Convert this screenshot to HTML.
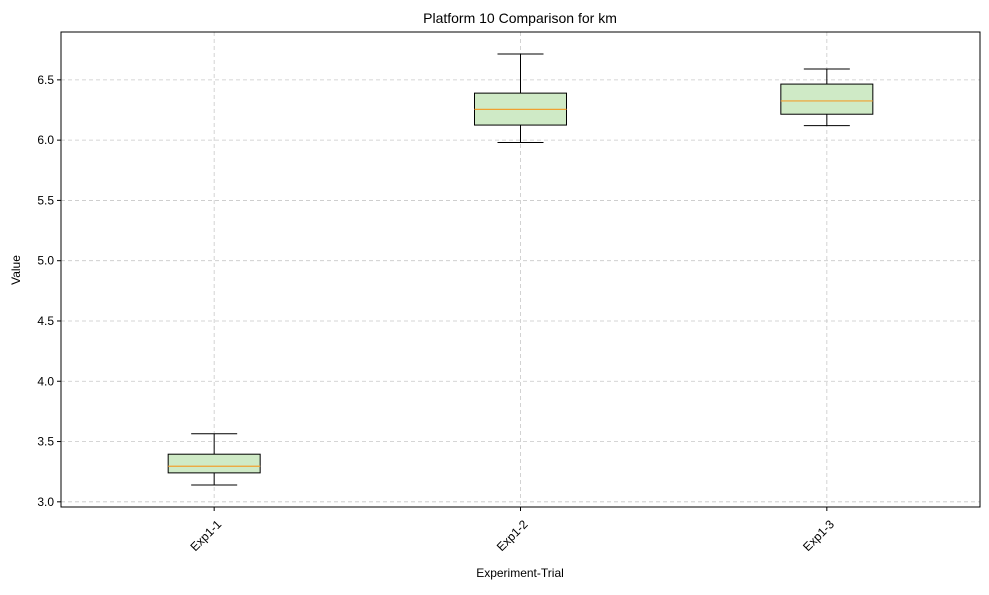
<!DOCTYPE html>
<html><head><meta charset="utf-8"><style>
body{margin:0;background:#fff;font-family:"Liberation Sans",sans-serif;}
svg text{font-family:"Liberation Sans",sans-serif;}
</style></head><body>
<svg id="chart" width="989" height="590" xmlns="http://www.w3.org/2000/svg">
<rect x="0" y="0" width="989" height="590" fill="#fff"/>
<text x="520" y="23" font-size="14" text-anchor="middle">Platform 10 Comparison for km</text>
<g id="grid"></g>
<g id="boxes"></g>
<g id="axes"></g>
<rect x="61" y="32" width="919" height="475" fill="none" stroke="#000" stroke-width="1"/>
<text x="520" y="577" font-size="12" text-anchor="middle">Experiment-Trial</text>
<text x="20" y="270" font-size="12" text-anchor="middle" transform="rotate(-90 20 270)">Value</text>
</svg>
<script>
const categories=["Exp1-1","Exp1-2","Exp1-3"];
const whiskerLow=[3.14,5.98,6.12];
const q1=[3.24,6.125,6.215];
const medians=[3.295,6.255,6.325];
const q3=[3.395,6.39,6.465];
const whiskerHigh=[3.565,6.715,6.59];
const yTicks=[3.0,3.5,4.0,4.5,5.0,5.5,6.0,6.5];
const NS="http://www.w3.org/2000/svg";
const L=61,R=980,T=32,B=507;
const yMin=2.957,yMax=6.897;
function y(v){return B-(v-yMin)/(yMax-yMin)*(B-T);}
function x(i){return L+(i+0.5)*(R-L)/categories.length;}
function mk(tag,attrs,parent){const e=document.createElementNS(NS,tag);for(const k in attrs)e.setAttribute(k,attrs[k]);parent.appendChild(e);return e;}
const grid=document.getElementById('grid'),axes=document.getElementById('axes'),boxes=document.getElementById('boxes');
yTicks.forEach(t=>{
 const g=mk('line',{x1:L,x2:R,y1:y(t),y2:y(t),stroke:'#c8c8c8','stroke-dasharray':'4,3','stroke-width':0.8},grid);
 
 
 mk('line',{x1:L-4,x2:L,y1:y(t),y2:y(t),stroke:'#000'},axes);
 const tx=mk('text',{x:L-7,y:y(t)+4,'font-size':12,'text-anchor':'end'},axes);
 tx.textContent=t.toFixed(1);
 
 
});
categories.forEach((c,i)=>{
 const cx=x(i);
 const g=mk('line',{x1:cx,x2:cx,y1:T,y2:B,stroke:'#c8c8c8','stroke-dasharray':'4,3','stroke-width':0.8},grid);
 
 
 mk('line',{x1:cx,x2:cx,y1:B,y2:B+4,stroke:'#000'},axes);
 const tx=mk('text',{x:cx+8,y:B+18,'font-size':12,'text-anchor':'end',transform:`rotate(-45 ${cx+8} ${B+18})`},axes);
 tx.textContent=c;
 
 
 const grp=mk('g',{},boxes);
 
 
 const bw=92,cw=46;
 mk('line',{x1:cx,x2:cx,y1:y(q3[i]),y2:y(whiskerHigh[i]),stroke:'#000'},grp);
 mk('line',{x1:cx,x2:cx,y1:y(q1[i]),y2:y(whiskerLow[i]),stroke:'#000'},grp);
 mk('line',{x1:cx-cw/2,x2:cx+cw/2,y1:y(whiskerHigh[i]),y2:y(whiskerHigh[i]),stroke:'#000'},grp);
 mk('line',{x1:cx-cw/2,x2:cx+cw/2,y1:y(whiskerLow[i]),y2:y(whiskerLow[i]),stroke:'#000'},grp);
 mk('rect',{x:cx-bw/2,y:y(q3[i]),width:bw,height:y(q1[i])-y(q3[i]),fill:'#cfeac6',stroke:'#000'},grp);
 mk('line',{x1:cx-bw/2,x2:cx+bw/2,y1:y(medians[i]),y2:y(medians[i]),stroke:'#f0a030','stroke-width':1.2},grp);
});
</script>
</body></html>
